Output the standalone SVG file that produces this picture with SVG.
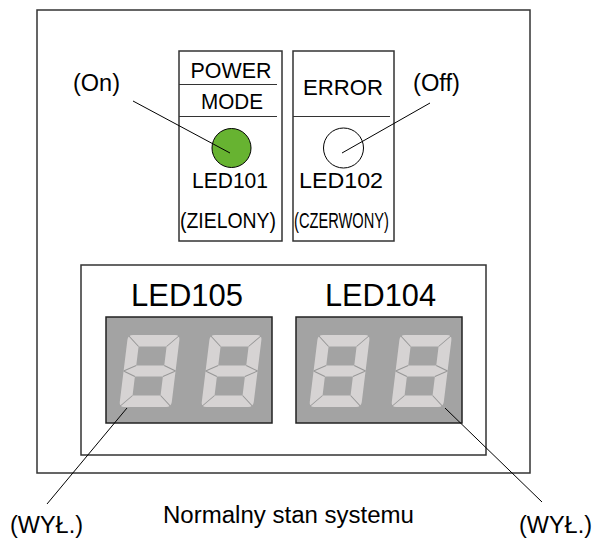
<svg xmlns="http://www.w3.org/2000/svg" xmlns:xlink="http://www.w3.org/1999/xlink" width="593" height="538" viewBox="0 0 593 538">
<style>
.box{fill:#fff;stroke:#333;stroke-width:1.5}
.div{stroke:#333;stroke-width:1.2}
.lead{stroke:#000;stroke-width:1;fill:none}
.t{font-family:"Liberation Sans",Arial,sans-serif;fill:#000}
.disp{fill:#a3a3a3;stroke:#222;stroke-width:1.5}
.seg{fill:#d6d3d3;fill-rule:evenodd}
.sep{stroke:#979797;stroke-width:1;fill:none}
</style>
<defs>
<g id="digit">
<path class="seg" d="M5,0 H47 Q52,0 52,5 V67 Q52,72 47,72 H5 Q0,72 0,67 V5 Q0,0 5,0 Z M12,11.5 H40 V30.5 H12 Z M12,41.5 H40 V60.5 H12 Z"/>
<path class="sep" d="M1,1 L12,11.5 M51,1 L40,11.5 M1,71 L12,60.5 M51,71 L40,60.5 M0,36 L12,30.5 M0,36 L12,41.5 M52,36 L40,30.5 M52,36 L40,41.5"/>
</g>
</defs>
<rect width="593" height="538" fill="#fff"/>
<g id="panel">
<rect class="box" x="37" y="10" width="493" height="463"/>
</g>
<g id="led101">
<rect class="box" x="179" y="51" width="103" height="190"/>
<line class="div" x1="179" y1="84.5" x2="277" y2="84.5"/>
<line class="div" x1="179" y1="116.5" x2="277" y2="116.5"/>
<text class="t" x="231" y="78" font-size="22" text-anchor="middle" textLength="81" lengthAdjust="spacingAndGlyphs">POWER</text>
<text class="t" x="232" y="109" font-size="22" text-anchor="middle" textLength="62" lengthAdjust="spacingAndGlyphs">MODE</text>
<circle cx="231.5" cy="148" r="19.5" fill="#67b331" stroke="#000" stroke-width="1"/>
<text class="t" x="230" y="188" font-size="22" text-anchor="middle" textLength="76" lengthAdjust="spacingAndGlyphs">LED101</text>
<text class="t" x="228" y="228" font-size="22" text-anchor="middle" textLength="96" lengthAdjust="spacingAndGlyphs">(ZIELONY)</text>
</g>
<g id="led102">
<rect class="box" x="293" y="51" width="101" height="190"/>
<line class="div" x1="293" y1="116.5" x2="390" y2="116.5"/>
<text class="t" x="343" y="95" font-size="22" text-anchor="middle" textLength="80" lengthAdjust="spacingAndGlyphs">ERROR</text>
<circle cx="343.5" cy="148" r="20" fill="#fff" stroke="#000" stroke-width="1"/>
<text class="t" x="341" y="188" font-size="22" text-anchor="middle" textLength="84" lengthAdjust="spacingAndGlyphs">LED102</text>
<text class="t" x="341.5" y="228" font-size="22" text-anchor="middle" textLength="95" lengthAdjust="spacingAndGlyphs">(CZERWONY)</text>
</g>
<g id="displays">
<rect class="box" x="81" y="265" width="405" height="190"/>
</g>
<g id="led105">
<text class="t" x="187" y="306" font-size="32" text-anchor="middle" textLength="112" lengthAdjust="spacingAndGlyphs">LED105</text>
<rect class="disp" x="106" y="317" width="166" height="106"/>
<use xlink:href="#digit" transform="translate(128,335) skewX(-7)"/>
<use xlink:href="#digit" transform="translate(210,335) skewX(-7)"/>
</g>
<g id="led104">
<text class="t" x="380.5" y="306" font-size="32" text-anchor="middle" textLength="111" lengthAdjust="spacingAndGlyphs">LED104</text>
<rect class="disp" x="296" y="317" width="166" height="106"/>
<use xlink:href="#digit" transform="translate(318,335) skewX(-7)"/>
<use xlink:href="#digit" transform="translate(400,335) skewX(-7)"/>
</g>
<g id="labels">
<text class="t" x="96.5" y="91" font-size="23" text-anchor="middle" textLength="47" lengthAdjust="spacingAndGlyphs">(On)</text>
<text class="t" x="436.5" y="91" font-size="23" text-anchor="middle" textLength="47" lengthAdjust="spacingAndGlyphs">(Off)</text>
<text class="t" x="46.5" y="533" font-size="23" text-anchor="middle" textLength="73" lengthAdjust="spacingAndGlyphs">(WYŁ.)</text>
<text class="t" x="555.5" y="533" font-size="23" text-anchor="middle" textLength="73" lengthAdjust="spacingAndGlyphs">(WYŁ.)</text>
<text class="t" x="288.5" y="523" font-size="23" text-anchor="middle" textLength="251" lengthAdjust="spacingAndGlyphs">Normalny stan systemu</text>
</g>
<g id="connectors">
<line class="lead" x1="133" y1="101" x2="230" y2="153"/>
<line class="lead" x1="430" y1="103" x2="342" y2="153"/>
<line class="lead" x1="47" y1="504" x2="127" y2="408"/>
<line class="lead" x1="445" y1="408" x2="542" y2="502"/>
</g>
</svg>
